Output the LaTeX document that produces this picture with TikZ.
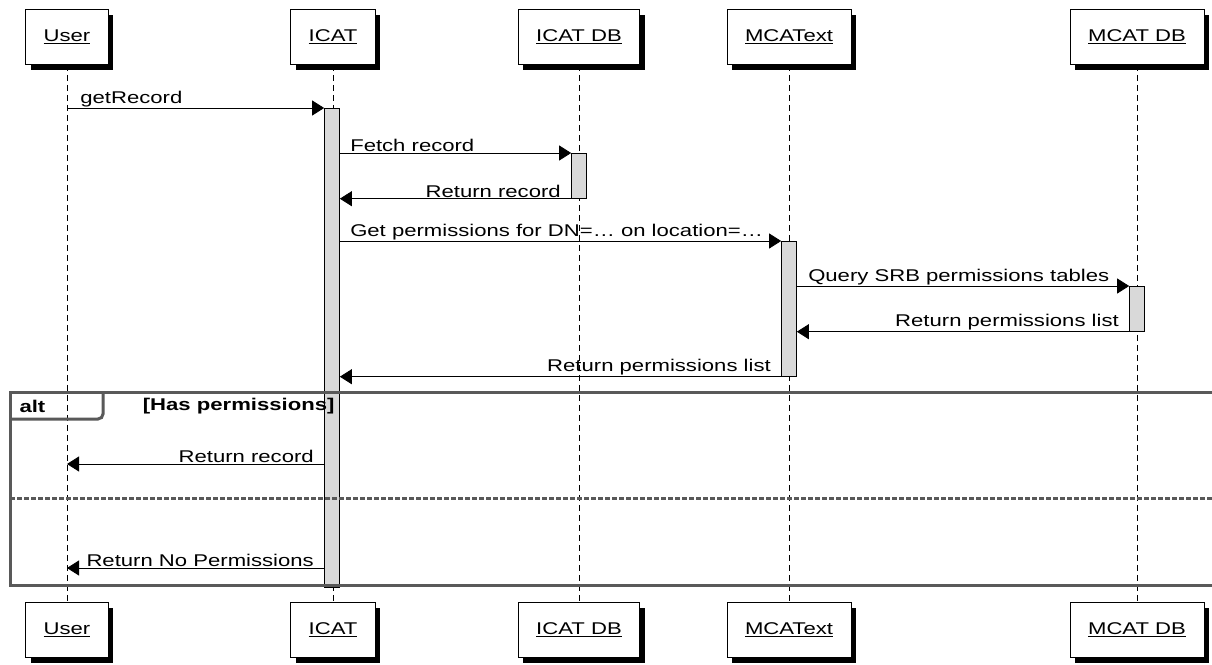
\documentclass[tikz,border=0pt]{standalone}
\usepackage{fontspec}
\setmainfont{Liberation Sans}[FakeStretch=1.3]
\usepackage{tikz}
\usetikzlibrary{arrows.meta,positioning,shadows}

\begin{document}
\begin{tikzpicture}[
  x=1pt, y=-1pt,
  font=\fontsize{17}{20}\selectfont,
  actor/.style={rectangle, draw=black, fill=white, line width=0.8pt, inner xsep=18pt, minimum height=55pt,
    drop shadow={shadow xshift=5pt, shadow yshift=-5pt, fill=black, opacity=1}},
  lifeline/.style={black, line width=0.7pt, dash pattern=on 6pt off 4pt},
  actbar/.style={rectangle, draw=black, fill=gray!30, line width=0.7pt, minimum width=15pt, inner sep=0pt, anchor=north},
  msg/.style={-{Triangle[length=12pt, width=15pt]}, line width=0.8pt},
  lblr/.style={anchor=south west, pos=0, inner xsep=11pt, inner ysep=1pt},
  lbll/.style={anchor=south east, pos=0, inner xsep=10pt, inner ysep=1pt},
  frame/.style={draw=black!65, line width=3pt}
]
\clip (0,0) rectangle (1212,664);
\fill[white] (0,0) rectangle (1212,664);

% Participants
\node[actor] (user) at (67,37) {\underline{User}};
\node[actor] (icat) at (333,37) {\underline{ICAT}};
\node[actor] (icatdb) at (579,37) {\underline{ICAT DB}};
\node[actor] (mcat) at (789,37) {\underline{MCAText}};
\node[actor] (mcatdb) at (1137,37) {\underline{MCAT DB}};

\node[actor] (userB) at (67,630) {\underline{User}};
\node[actor] (icatB) at (333,630) {\underline{ICAT}};
\node[actor] (icatdbB) at (579,630) {\underline{ICAT DB}};
\node[actor] (mcatB) at (789,630) {\underline{MCAText}};
\node[actor] (mcatdbB) at (1137,630) {\underline{MCAT DB}};

% Lifelines
\draw[lifeline] (user) -- (userB);
\draw[lifeline] (icat) -- (icatB);
\draw[lifeline] (icatdb) -- (icatdbB);
\draw[lifeline] (mcat) -- (mcatB);
\draw[lifeline] (mcatdb) -- (mcatdbB);

% Activation bars
\node[actbar, minimum height=479pt] (actI) at (332,108) {};
\node[actbar, minimum height=45pt] (actIdb) at (579,153) {};
\node[actbar, minimum height=135pt] (actM) at (789,241) {};
\node[actbar, minimum height=45pt] (actMdb) at (1137,286) {};

% Alt frame
\draw[frame] (10,392) rectangle (1222,585);
\draw[frame, rounded corners=5pt] (10,419) -| (103,392);
\draw[frame, line width=3pt, dash pattern=on 5pt off 2pt] (10,498) -- (1222,498);
\node[anchor=west, font=\fontsize{17}{20}\selectfont\bfseries] (altlbl) at (16,406) {alt};
\node[anchor=east, font=\fontsize{17}{20}\selectfont\bfseries] (guard) at (338,406) {[Has permissions]};

\coordinate (alt1) at (0,464);
\coordinate (alt2) at (0,568);

% Messages
\draw[msg] (user.south |- actI.north) -- node[lblr, inner xsep=13pt] {getRecord} (actI.north west);
\draw[msg] (actI.east |- actIdb.north) -- node[lblr, inner xsep=10pt] {Fetch record} (actIdb.north west);
\draw[msg] (actIdb.south west) -- node[lbll] {Return record} (actI.east |- actIdb.south);
\draw[msg] (actI.east |- actM.north) -- node[lblr, inner xsep=10pt] {Get permissions for DN=… on location=…} (actM.north west);
\draw[msg] (actM.east |- actMdb.north) -- node[lblr] {Query SRB permissions tables} (actMdb.north west);
\draw[msg] (actMdb.south west) -- node[lbll] {Return permissions list} (actM.east |- actMdb.south);
\draw[msg] (actM.south west) -- node[lbll] {Return permissions list} (actI.east |- actM.south);
\draw[msg] (actI.west |- alt1) -- node[lbll] {Return record} (user.south |- alt1);
\draw[msg] (actI.west |- alt2) -- node[lbll] {Return No Permissions} (user.south |- alt2);

\end{tikzpicture}
\end{document}
